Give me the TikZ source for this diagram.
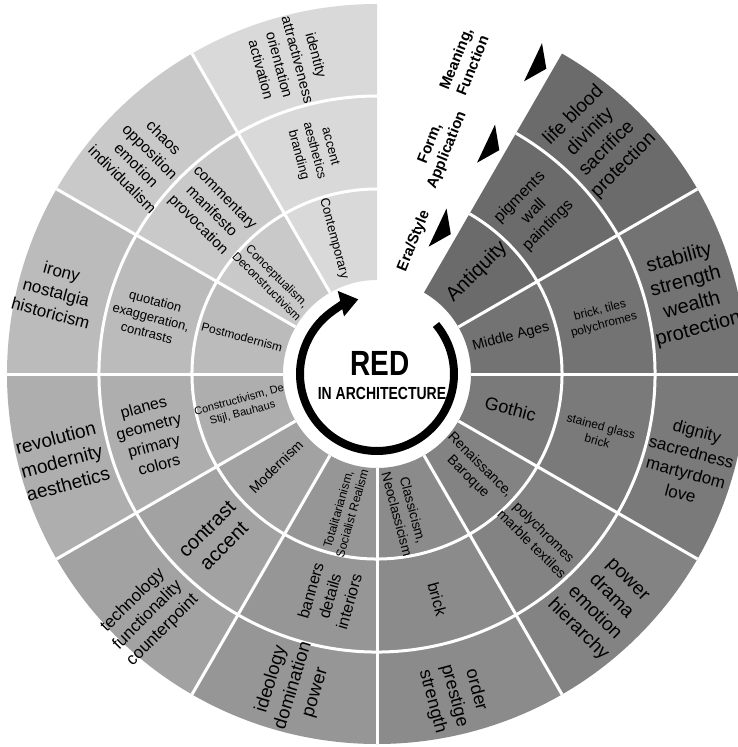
\documentclass[tikz,border=0pt]{standalone}
\usepackage{fontspec}
\setmainfont{Liberation Sans}
\newfontfamily\narrowsans[FakeStretch=0.8]{Liberation Sans}
\usetikzlibrary{arrows.meta}

\definecolor{cA}{HTML}{6B6B6B}
\definecolor{cB}{HTML}{737373}
\definecolor{cC}{HTML}{7A7A7A}
\definecolor{cD}{HTML}{838383}
\definecolor{cE}{HTML}{8B8B8B}
\definecolor{cF}{HTML}{969696}
\definecolor{cG}{HTML}{A2A2A2}
\definecolor{cH}{HTML}{AEAEAE}
\definecolor{cI}{HTML}{BBBBBB}
\definecolor{cJ}{HTML}{C9C9C9}
\definecolor{cK}{HTML}{D9D9D9}

\tikzset{
  lbl/.style={inner sep=0pt, align=center, text=black},
  gaplbl/.style={inner sep=0pt, align=center, text=black, font=\bfseries\fontsize{15}{18}\selectfont},
  sepline/.style={white, line width=3pt},
  marker/.style={fill=black},
}
% #1 angle, #2 radius, #3 rotation, #4 size, #5 skip, #6 name, #7 text
\newcommand\seclbl[7]{\node[lbl, rotate=#3, font=\fontsize{#4}{#5}\selectfont] (#6) at (#1:#2) {#7};}

\begin{document}
\begin{tikzpicture}[x=1pt,y=1pt]
\useasboundingbox (-377,-373) rectangle (361,374);
\fill[white] (-377,-373) rectangle (361,374);
\begin{scope}
\clip (-377,-373) rectangle (361,374);
% sectors
\foreach \a/\c in {30/cA, 0/cB, -30/cC, -60/cD, -90/cE, -120/cF, -150/cG, -180/cH, 150/cI, 120/cJ, 90/cK}{
  \fill[\c] (\a:94) arc[start angle=\a, end angle=\a+30, radius=94]
     -- ({\a+30}:370) arc[start angle=\a+30, end angle=\a, radius=370] -- cycle;
}
% separators
\foreach \a in {30,0,...,-240}{
  \draw[sepline] (\a:94) -- (\a:370);
}
\draw[sepline] (60:185) arc[start angle=60, end angle=-270, radius=185];
\draw[sepline] (60:278) arc[start angle=60, end angle=-270, radius=278];

% ring 1
\seclbl{45.6}{143}{45}{20}{25}{r1a}{Antiquity}
\seclbl{15.4}{139}{15}{14.3}{18}{r1b}{Middle Ages}
\seclbl{-14.6}{138}{-15}{18}{22}{r1c}{Gothic}
\seclbl{-45}{137}{-45}{14}{17}{r1d}{Renaissance,\\Baroque}
\seclbl{-78.5}{141}{-75}{13.5}{16.5}{r1e}{Classicism,\\Neoclassicism}
\seclbl{256.9}{141}{74}{12}{14.5}{r1f}{Totalitarianism,\\Socialist Realism}
\seclbl{222.6}{137}{45}{14}{17}{r1g}{Modernism}
\seclbl{193.6}{140}{15}{11}{13.5}{r1h}{Constructivism, De\\Stijl, Bauhaus}
\seclbl{164.7}{140}{-15}{12}{15}{r1i}{Postmodernism}
\seclbl{138.5}{140}{-45}{12}{14.5}{r1j}{Conceptualism,\\Deconstructivism}
\seclbl{107.7}{142}{-75}{13}{16}{r1k}{Contemporary}

% ring 2
\seclbl{46}{226}{45}{16}{20}{r2a}{pigments\\wall\\paintings}
\seclbl{14}{232}{15}{12}{15}{r2b}{brick, tiles\\polychromes}
\seclbl{-15}{230}{-15}{12}{15}{r2c}{stained glass\\brick}
\seclbl{-45.5}{230}{-45}{14}{17}{r2d}{polychromes\\marble textiles}
\seclbl{-75}{233}{-75}{16}{20}{r2e}{brick}
\seclbl{258}{227}{74}{16}{20}{r2f}{banners\\details\\interiors}
\seclbl{225.4}{230}{45}{20}{24}{r2g}{contrast\\accent}
\seclbl{195.3}{234}{15}{16}{20}{r2h}{planes\\geometry\\primary\\colors}
\seclbl{165.8}{233}{-15}{13}{16.5}{r2i}{quotation\\exaggeration,\\contrasts}
\seclbl{135.7}{232}{-45}{15}{19}{r2j}{commentary\\manifesto\\provocation}
\seclbl{105.8}{232}{-75}{13}{16.5}{r2k}{accent\\aesthetics\\branding}

% ring 3
\seclbl{46.5}{322}{45}{19}{23.5}{r3a}{life blood\\divinity\\sacrifice\\protection}
\seclbl{14.4}{322}{15}{20}{24.5}{r3b}{stability\\strength\\wealth\\protection}
\seclbl{-15.8}{324}{-15}{17}{21.5}{r3c}{dignity\\sacredness\\martyrdom\\love}
\seclbl{-45.9}{323}{-45}{19}{23.5}{r3d}{power\\drama\\emotion\\hierarchy}
\seclbl{-76.5}{331}{-75}{18}{22.5}{r3e}{order\\prestige\\strength}
\seclbl{255}{323}{73}{18.5}{23}{r3f}{ideology\\domination\\power}
\seclbl{226.5}{333}{45}{17}{21}{r3g}{technology\\functionality\\counterpoint}
\seclbl{195.4}{327}{15}{19}{24}{r3h}{revolution\\modernity\\aesthetics}
\seclbl{165.7}{331}{-15}{17}{21.5}{r3i}{irony\\nostalgia\\historicism}
\seclbl{137.3}{318}{-45}{15.5}{19.5}{r3j}{chaos\\opposition\\emotion\\individualism}
\seclbl{105.8}{324}{-75}{14.5}{19}{r3k}{identity\\attractiveness\\orientation\\activation}
\end{scope}

% centre
\draw[line width=8pt, -{Triangle[length=18pt,width=25pt]}] (40:77) arc[start angle=40, end angle=-256, radius=77];
\node[font=\narrowsans\bfseries\fontsize{35}{40}\selectfont, inner sep=0pt] (red) at (3,11) {RED};
\node[font=\narrowsans\bfseries\fontsize{17.5}{20}\selectfont, inner sep=0pt] (inarch) at (5,-19) {IN ARCHITECTURE};

% gap markers
\begin{scope}[rotate=60]
\fill[marker] (178,22.5) -- (158,6) -- (136,19) -- cycle;
\fill[marker] (275,22.5) -- (255,6) -- (233,19) -- cycle;
\fill[marker] (369,22.5) -- (349,6) -- (327,19) -- cycle;
\end{scope}
\node[gaplbl, rotate=68] (era) at (37,133) {Era/Style};
\node[gaplbl, rotate=68] (form) at (62,227) {Form,\\Application};
\node[gaplbl, rotate=68] (mean) at (87,312) {Meaning,\\Function};
\end{tikzpicture}
\end{document}
